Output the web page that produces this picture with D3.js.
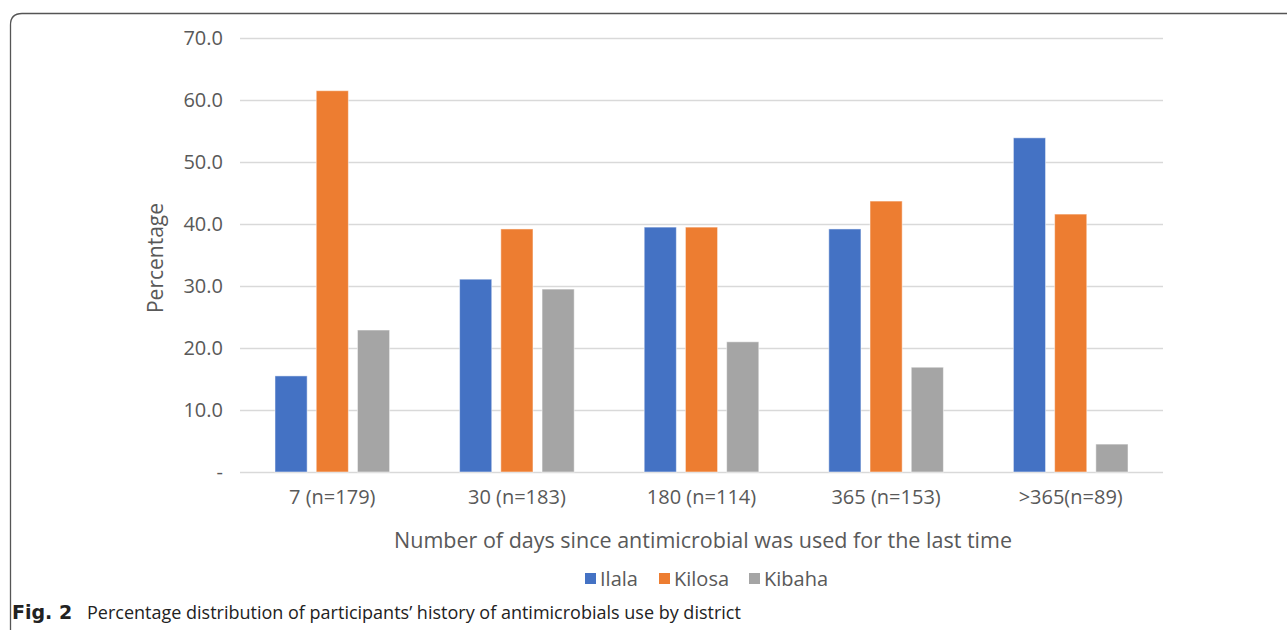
<!DOCTYPE html>
<html>
<head>
<meta charset="utf-8">
<script src="https://cdn.jsdelivr.net/npm/d3@7"></script>
<style>
  body { margin: 0; background: #fff; }
  svg text { font-family: "Open Sans", sans-serif; }
</style>
</head>
<body>
<div class="chart"></div>
<script>
const categories = ["7 (n=179)", "30 (n=183)", "180 (n=114)", "365 (n=153)", ">365(n=89)"];
const districts = ["Ilala", "Kilosa", "Kibaha"];
const ilala  = [15.5, 31.1, 39.5, 39.2, 53.9];
const kilosa = [61.5, 39.2, 39.5, 43.7, 41.6];
const kibaha = [22.9, 29.5, 21.0, 16.9, 4.5];
const yTicks = [0, 10, 20, 30, 40, 50, 60, 70];
const colors = ["#4472C4", "#ED7D31", "#A5A5A5"];

const series = [ilala, kilosa, kibaha];
const W = 1287, H = 630;
const mLeft = 240, mRight = 1163, mTop = 38, mBottom = 472;

const svg = d3.select(".chart").append("svg")
    .attr("width", W)
    .attr("height", H);

// frame round the figure
svg.append("path")
    .attr("d", "M10.5,630 L10.5,25 Q10.5,13.5 22,13.5 L1287,13.5")
    .attr("fill", "none")
    .attr("stroke", "#555")
    .attr("stroke-width", 1.3);

const y = d3.scaleLinear().domain([0, 70]).range([mBottom, mTop]);
const x0 = d3.scaleBand().domain(categories).range([mLeft, mRight])
    .paddingInner(0.33).paddingOuter(0.165);
const x1 = d3.scaleBand().domain(districts).range([0, x0.bandwidth()])
    .paddingInner(0.22).paddingOuter(0.11);

// gridlines + y labels
const yAxis = d3.axisLeft(y)
    .tickValues(yTicks)
    .tickSize(-(mRight - mLeft))
    .tickPadding(17)
    .tickFormat(d => d === 0 ? "-" : d.toFixed(1));

const ga = svg.append("g")
    .attr("transform", `translate(${mLeft},0)`)
    .call(yAxis);
ga.select(".domain").remove();
ga.selectAll(".tick line").attr("stroke", "#d9d9d9").attr("stroke-width", 1.5);
ga.selectAll(".tick text").attr("fill", "#595959").style("font-size", "20px");

// bars
const groups = svg.append("g").selectAll("g")
    .data(categories)
    .enter().append("g")
    .attr("transform", d => `translate(${x0(d)},0)`);

groups.selectAll("rect")
    .data((d, i) => series.map((s, j) => ({ name: districts[j], value: s[i], c: colors[j] })))
    .enter().append("rect")
    .attr("x", d => x1(d.name))
    .attr("width", x1.bandwidth())
    .attr("y", d => y(d.value))
    .attr("height", d => y(0) - y(d.value))
    .attr("fill", d => d.c)
    .attr("stroke", "#fff")
    .attr("stroke-opacity", 0.5)
    .attr("stroke-width", 1);

// x labels
svg.append("g").selectAll("text")
    .data(categories)
    .enter().append("text")
    .attr("x", d => x0(d) + x0.bandwidth() / 2)
    .attr("y", 504)
    .attr("text-anchor", "middle")
    .attr("fill", "#595959")
    .style("font-size", "20px")
    .text(d => d);

// axis titles
svg.append("text")
    .attr("x", 703)
    .attr("y", 548)
    .attr("text-anchor", "middle")
    .attr("fill", "#595959")
    .style("font-size", "21.5px")
    .text("Number of days since antimicrobial was used for the last time");

svg.append("text")
    .attr("transform", "translate(163,258) rotate(-90)")
    .attr("text-anchor", "middle")
    .attr("fill", "#595959")
    .style("font-size", "21px")
    .text("Percentage");

// legend
const legX = [585, 659, 749];
const leg = svg.append("g").selectAll("g")
    .data(districts)
    .enter().append("g")
    .attr("transform", (d, i) => `translate(${legX[i]},573)`);
leg.append("rect")
    .attr("width", 11).attr("height", 11)
    .attr("fill", (d, i) => colors[i]);
leg.append("text")
    .attr("x", 15).attr("y", 13)
    .attr("fill", "#595959")
    .style("font-size", "20px")
    .text(d => d);

// caption
const cap = svg.append("g").attr("fill", "#222");
cap.append("text")
    .attr("x", 12).attr("y", 619)
    .attr("font-weight", "bold")
    .style("font-family", "'DejaVu Sans', sans-serif")
    .style("font-size", "19px")
    .text("Fig. 2");
cap.append("text")
    .attr("x", 87).attr("y", 619)
    .style("font-size", "18px")
    .text("Percentage distribution of participants\u2019 history of antimicrobials use by district");
</script>
</body>
</html>
